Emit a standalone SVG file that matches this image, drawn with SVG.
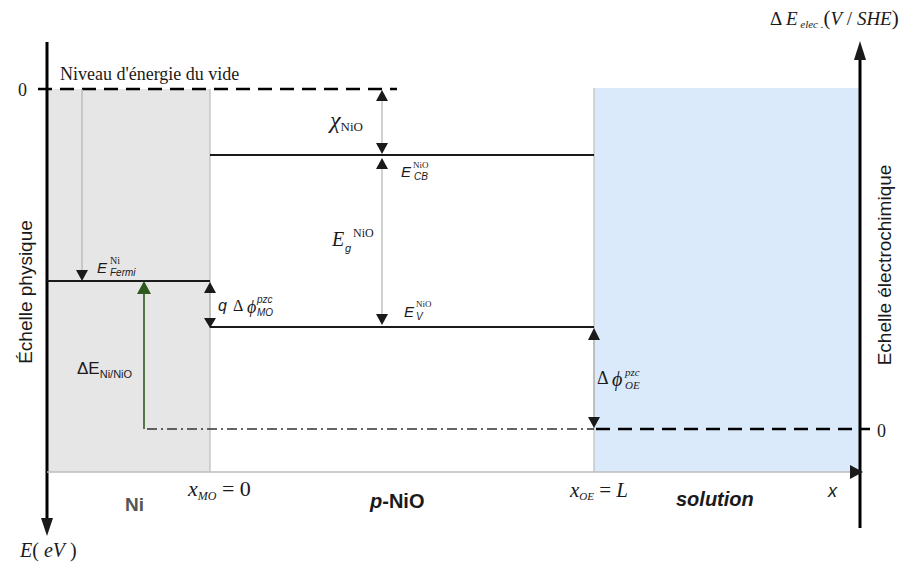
<svg xmlns="http://www.w3.org/2000/svg" width="904" height="563" viewBox="0 0 904 563">
<style>
.serif{font-family:"Liberation Serif","DejaVu Serif",serif;fill:#1a1a1a}
.sans{font-family:"Liberation Sans","DejaVu Sans",sans-serif;fill:#1a1a1a}
.axis{stroke:#000;stroke-width:3;fill:none}
.lvl{stroke:#1a1a1a;stroke-width:2;fill:none}
.thin{stroke:#b3b3b3;stroke-width:1.2;fill:none}
.dash{stroke:#000;stroke-width:2.5;stroke-dasharray:14,8;fill:none}
.dashdot{stroke:#333;stroke-width:1.3;stroke-dasharray:10,4,2,4;fill:none}
.head{fill:#1a1a1a}
</style>
<rect width="904" height="563" fill="#fff"/>
<g id="regions">
<rect id="ni" x="47" y="89" width="163" height="383" fill="#e6e6e6"/>
<rect id="solution" x="594" y="88" width="266" height="384" fill="#dbeafb"/>
<line x1="210" y1="89" x2="210" y2="472" stroke="#bdbdbd" stroke-width="1.2"/>
<line x1="594" y1="88" x2="594" y2="472" stroke="#bdbdbd" stroke-width="1.2"/>
</g>
<g id="axes">
<line class="axis" x1="47" y1="42" x2="47" y2="520"/>
<polygon class="head" points="41,518 53,518 47,536"/>
<line class="axis" x1="860" y1="528" x2="860" y2="58"/>
<polygon class="head" points="854,60 866,60 860,41"/>
<line x1="47" y1="472" x2="852" y2="472" stroke="#bdbdbd" stroke-width="1.5"/>
<polygon class="head" points="850,465 850,479 863,472"/>
</g>
<g id="connectors">
<line class="dash" x1="38" y1="89" x2="397" y2="89"/>
<line class="dash" x1="596" y1="429" x2="870" y2="429"/>
<line class="dashdot" x1="147" y1="429" x2="594" y2="429"/>
<line class="lvl" x1="47" y1="281" x2="210" y2="281"/>
<line class="lvl" x1="210" y1="155" x2="594" y2="155"/>
<line class="lvl" x1="210" y1="327" x2="594" y2="327"/>
<line class="thin" x1="82" y1="89" x2="82" y2="272"/>
<polygon class="head" points="76,270 88,270 82,281"/>
<line class="thin" x1="382" y1="98" x2="382" y2="146"/>
<polygon class="head" points="376,101 388,101 382,90"/>
<polygon class="head" points="376,143 388,143 382,154"/>
<line class="thin" x1="382" y1="166" x2="382" y2="316"/>
<polygon class="head" points="376,169 388,169 382,158"/>
<polygon class="head" points="376,314 388,314 382,325"/>
<line class="thin" x1="210" y1="290" x2="210" y2="320"/>
<polygon class="head" points="204,293 216,293 210,282"/>
<polygon class="head" points="204,318 216,318 210,328"/>
<line class="thin" x1="594" y1="337" x2="594" y2="420"/>
<polygon class="head" points="588,340 600,340 594,328"/>
<polygon class="head" points="588,417 600,417 594,428"/>
<line x1="144" y1="429" x2="144" y2="292" stroke="#2d5a1e" stroke-width="1.6"/>
<polygon points="137,294 151,294 144,281" fill="#2d5a1e"/>
</g>
<g id="labels">
<text class="serif" x="18" y="96" font-size="18">0</text>
<text class="serif" x="877" y="437" font-size="18">0</text>
<text class="serif" x="60" y="80" font-size="18">Niveau d'énergie du vide</text>
<text class="serif" x="330" y="128" font-size="24" font-style="italic">χ<tspan font-size="13" font-style="normal" dy="3">NiO</tspan></text>
<text class="sans" x="401" y="177" font-size="15" font-style="italic">E</text>
<text class="serif" x="413" y="168" font-size="9">NiO</text>
<text class="sans" x="414" y="180" font-size="10" font-style="italic">CB</text>
<text class="serif" x="332" y="246" font-size="20" font-style="italic">E</text>
<text class="sans" x="345" y="252" font-size="11" font-style="italic">g</text>
<text class="serif" x="353" y="237" font-size="12">NiO</text>
<text class="sans" x="404" y="317" font-size="15" font-style="italic">E</text>
<text class="serif" x="416" y="307" font-size="9">NiO</text>
<text class="sans" x="416" y="320" font-size="10" font-style="italic">V</text>
<text class="sans" x="97" y="273" font-size="15" font-style="italic">E</text>
<text class="serif" x="110" y="264" font-size="10">Ni</text>
<text class="sans" x="110" y="276" font-size="10" font-style="italic">Fermi</text>
<text class="sans" x="218" y="311" font-size="16" font-style="italic">q</text>
<text class="serif" x="233" y="311" font-size="16">Δ</text>
<text class="serif" x="247" y="313" font-size="18" font-style="italic">ϕ</text>
<text class="sans" x="257" y="303" font-size="10" font-style="italic">pzc</text>
<text class="sans" x="257" y="316" font-size="10" font-style="italic">MO</text>
<text class="sans" x="77" y="374" font-size="17">ΔE<tspan font-size="11" dy="4">Ni/NiO</tspan></text>
<text class="serif" x="597" y="384" font-size="18">Δ</text>
<text class="serif" x="612" y="386" font-size="20" font-style="italic">ϕ</text>
<text class="serif" x="625" y="376" font-size="11" font-style="italic">pzc</text>
<text class="serif" x="625" y="389" font-size="11" font-style="italic">OE</text>
<text class="sans" x="125" y="511" font-size="19" font-weight="bold" style="fill:#555">Ni</text>
<text class="serif" x="188" y="496" font-size="22" font-style="italic">x<tspan font-size="12" dy="4">MO</tspan><tspan font-style="normal" font-size="22" dy="-4"> = 0</tspan></text>
<text class="sans" x="370" y="508" font-size="20" font-weight="bold"><tspan font-style="italic">p</tspan>-NiO</text>
<text class="serif" x="570" y="497" font-size="21" font-style="italic">x<tspan font-size="11" dy="3">OE</tspan><tspan font-style="normal" font-size="21" dy="-3"> = </tspan>L</text>
<text class="sans" x="676" y="506" font-size="20" font-weight="bold" font-style="italic">solution</text>
<text class="sans" x="828" y="497" font-size="18" font-style="italic">x</text>
<text class="serif" x="20" y="557" font-size="20"><tspan font-style="italic">E</tspan>( <tspan font-style="italic">eV</tspan> )</text>
<text class="serif" x="770" y="25" font-size="19">Δ <tspan font-style="italic">E</tspan><tspan font-style="italic" font-size="11" dy="3"> elec .</tspan><tspan dy="-3" font-size="21">(</tspan><tspan font-style="italic">V</tspan> / <tspan font-style="italic">SHE</tspan><tspan font-size="21">)</tspan></text>
<text class="sans" x="0" y="0" font-size="19" text-anchor="middle" transform="translate(32,292) rotate(-90)">Échelle physique</text>
<text class="sans" x="0" y="0" font-size="19" text-anchor="middle" transform="translate(891,265) rotate(-90)">Echelle électrochimique</text>
</g>
</svg>
